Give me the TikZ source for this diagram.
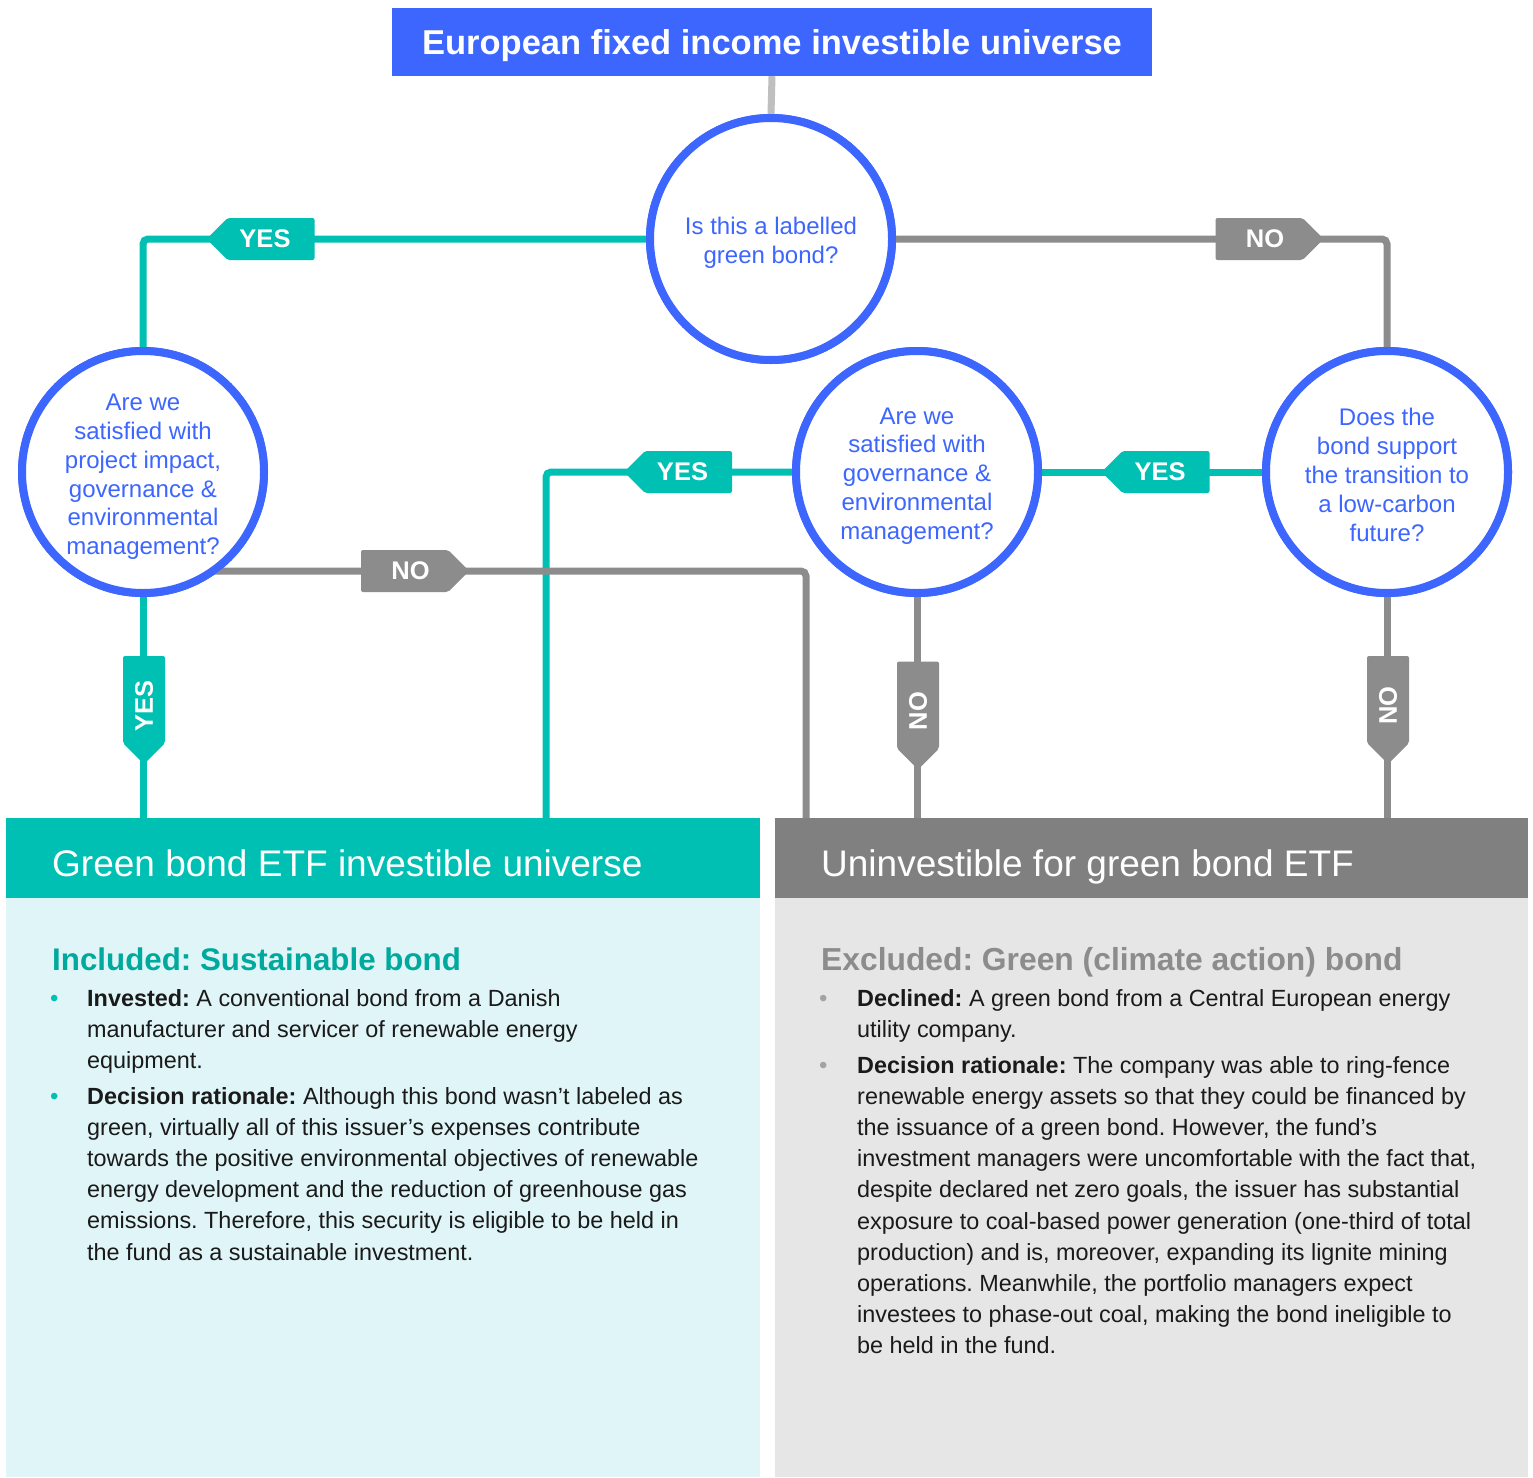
\documentclass[tikz,border=0pt]{standalone}
\usepackage{fontspec}
\setmainfont{Liberation Sans}
\usetikzlibrary{shapes.symbols}
\definecolor{tealc}{HTML}{00BFB3}
\definecolor{tealdark}{HTML}{00A99D}
\definecolor{tealbg}{HTML}{E0F5F7}
\definecolor{bluec}{HTML}{3D66FF}
\definecolor{grayline}{HTML}{8C8C8C}
\definecolor{grayhead}{HTML}{808080}
\definecolor{graybg}{HTML}{E6E6E6}
\definecolor{graytop}{HTML}{BFBFBF}
\definecolor{bodytext}{HTML}{1A1A1A}
\frenchspacing
\newcommand{\tagpad}{\kern12pt\relax}
\begin{document}
\begin{tikzpicture}[x=1pt,y=-1pt,
  tealconn/.style={draw=tealc, line width=7pt, rounded corners=5pt},
  grayconn/.style={draw=grayline, line width=7pt, rounded corners=5pt},
  qcircle/.style={circle, draw=bluec, fill=white, line width=8pt, minimum size=242pt, inner sep=0pt},
  qtext/.style={align=center, text=bluec, font=\fontsize{24pt}{28.8pt}\selectfont, inner sep=0pt},
  tag/.style={signal, signal pointer angle=90, minimum height=42pt, minimum width=108pt, inner sep=0pt, text=white, font=\bfseries\fontsize{25.5pt}{30pt}\selectfont, rounded corners=2pt},
  yestag/.style={tag, fill=tealc},
  notag/.style={tag, fill=grayline},
  headtext/.style={anchor=base west, inner sep=0pt, text=white, font=\fontsize{37pt}{44pt}\selectfont},
  subhead/.style={anchor=base west, inner sep=0pt, font=\bfseries\fontsize{31.8pt}{36pt}\selectfont},
  bullettext/.style={anchor=base west, inner sep=0pt, text=bodytext},
  bulletdot/.style={anchor=base west, inner sep=0pt, font=\fontsize{24pt}{31.2pt}\selectfont}
]
\useasboundingbox (0,0) rectangle (1533,1477);
\fill[white] (0,0) rectangle (1533,1477);

% panels
\fill[tealbg] (6,898) rectangle (760,1477);
\fill[tealc] (6,818) rectangle (760,898);
\fill[graybg] (775,898) rectangle (1528,1477);
\fill[grayhead] (775,818) rectangle (1528,898);

% title
\node[fill=bluec, text=white, minimum width=760pt, minimum height=68pt, inner sep=0pt, text depth=0pt,
      font=\bfseries\fontsize{34.5pt}{40pt}\selectfont] (title) at (772,42) {European fixed income investible universe};

% coordinates at panel tops
\coordinate (g0) at (143,818);
\coordinate (g1) at (546,818);
\coordinate (u0) at (806,818);
\coordinate (u1) at (917,818);
\coordinate (u2) at (1387,818);

% circles (positions)
\path (771,239) node[qcircle] (ct) {};
\path (143,472) node[qcircle] (cl) {};
\path (917,472) node[qcircle] (cm) {};
\path (1387,472) node[qcircle] (cr) {};

% connectors
\draw[draw=graytop, line width=7pt] (title.south) -- (ct.north);
\draw[tealconn] (ct.west) -| (cl.north);
\draw[grayconn] (ct.east) -| (cr.north);
\draw[tealconn] (cr.west) -- (cm.east);
\draw[tealconn] (cm.west) -| (g1);
\draw[grayconn] (cl.center) ++(0,99) -| (u0);
\draw[tealconn] (cl.south) -- (g0);
\draw[grayconn] (cm.south) -- (u1);
\draw[grayconn] (cr.south) -- (u2);

% circles on top
\node[qcircle] (ct2) at (ct) {};
\node[qcircle] (cl2) at (cl) {};
\node[qcircle] (cm2) at (cm) {};
\node[qcircle] (cr2) at (cr) {};
\node[qtext] (tt) at (771,243) {Is this a labelled\\green bond?};
\node[qtext] (tl) at (143,477) {Are we\\satisfied with\\project impact,\\governance \&\\environmental\\management?};
\node[qtext] (tm) at (917,476) {Are we\\satisfied with\\governance \&\\environmental\\management?};
\node[qtext] (tr) at (1387,475) {Does the\\bond support\\the transition to\\a low-carbon\\future?};

% tags
\node[yestag, signal to=west] (y1) at (271,239) {YES\tagpad};
\node[notag, signal to=east] (n1) at (1259,239) {\tagpad NO};
\node[yestag, signal to=west] (y2) at (688.5,472) {YES\tagpad};
\node[yestag, signal to=west] (y3) at (1166,472) {YES\tagpad};
\node[notag, signal to=east] (n2) at (404.5,571) {\tagpad NO};
\node[yestag, signal to=west, rotate=90] (y4) at (144,699.5) {YES\tagpad};
\node[notag, signal to=west, rotate=90] (n3) at (918,705) {NO\tagpad};
\node[notag, signal to=west, rotate=90] (n4) at (1388,699.5) {NO\tagpad};

% headers
\node[headtext] (hg) at (52,876) {Green bond ETF investible universe};
\node[headtext] (hu) at (821,876) {Uninvestible for green bond ETF};

% left panel text
\node[subhead, text=tealdark, font=\bfseries\fontsize{31.3pt}{36pt}\selectfont] (sl) at (52,970) {Included: Sustainable bond};
\node[bulletdot, text=tealc] (bl1) at (50,1006) {•};
\node[bullettext] (pl1) at (87,1006) {\parbox[t]{700pt}{\raggedright\fontsize{23.4pt}{31.2pt}\selectfont
\textbf{Invested:} A conventional bond from a Danish\\
manufacturer and servicer of renewable energy\\
equipment.}};
\node[bulletdot, text=tealc] (bl2) at (50,1104) {•};
\node[bullettext] (pl2) at (87,1104) {\parbox[t]{700pt}{\raggedright\fontsize{23.4pt}{31.2pt}\selectfont
\textbf{Decision rationale:} Although this bond wasn’t labeled as\\
green, virtually all of this issuer’s expenses contribute\\
towards the positive environmental objectives of renewable\\
energy development and the reduction of greenhouse gas\\
emissions. Therefore, this security is eligible to be held in\\
the fund as a sustainable investment.}};

% right panel text
\node[subhead, text=grayline] (sr) at (821,970) {Excluded: Green (climate action) bond};
\node[bulletdot, text=grayline!80] (br1) at (819,1006) {•};
\node[bullettext] (pr1) at (857,1006) {\parbox[t]{700pt}{\raggedright\fontsize{23.4pt}{31.2pt}\selectfont
\textbf{Declined:} A green bond from a Central European energy\\
utility company.}};
\node[bulletdot, text=grayline!80] (br2) at (819,1073) {•};
\node[bullettext] (pr2) at (857,1073) {\parbox[t]{700pt}{\raggedright\fontsize{23.4pt}{31.2pt}\selectfont
\textbf{Decision rationale:} The company was able to ring-fence\\
renewable energy assets so that they could be financed by\\
the issuance of a green bond. However, the fund’s\\
investment managers were uncomfortable with the fact that,\\
despite declared net zero goals, the issuer has substantial\\
exposure to coal-based power generation (one-third of total\\
production) and is, moreover, expanding its lignite mining\\
operations. Meanwhile, the portfolio managers expect\\
investees to phase-out coal, making the bond ineligible to\\
be held in the fund.}};
\end{tikzpicture}
\end{document}
